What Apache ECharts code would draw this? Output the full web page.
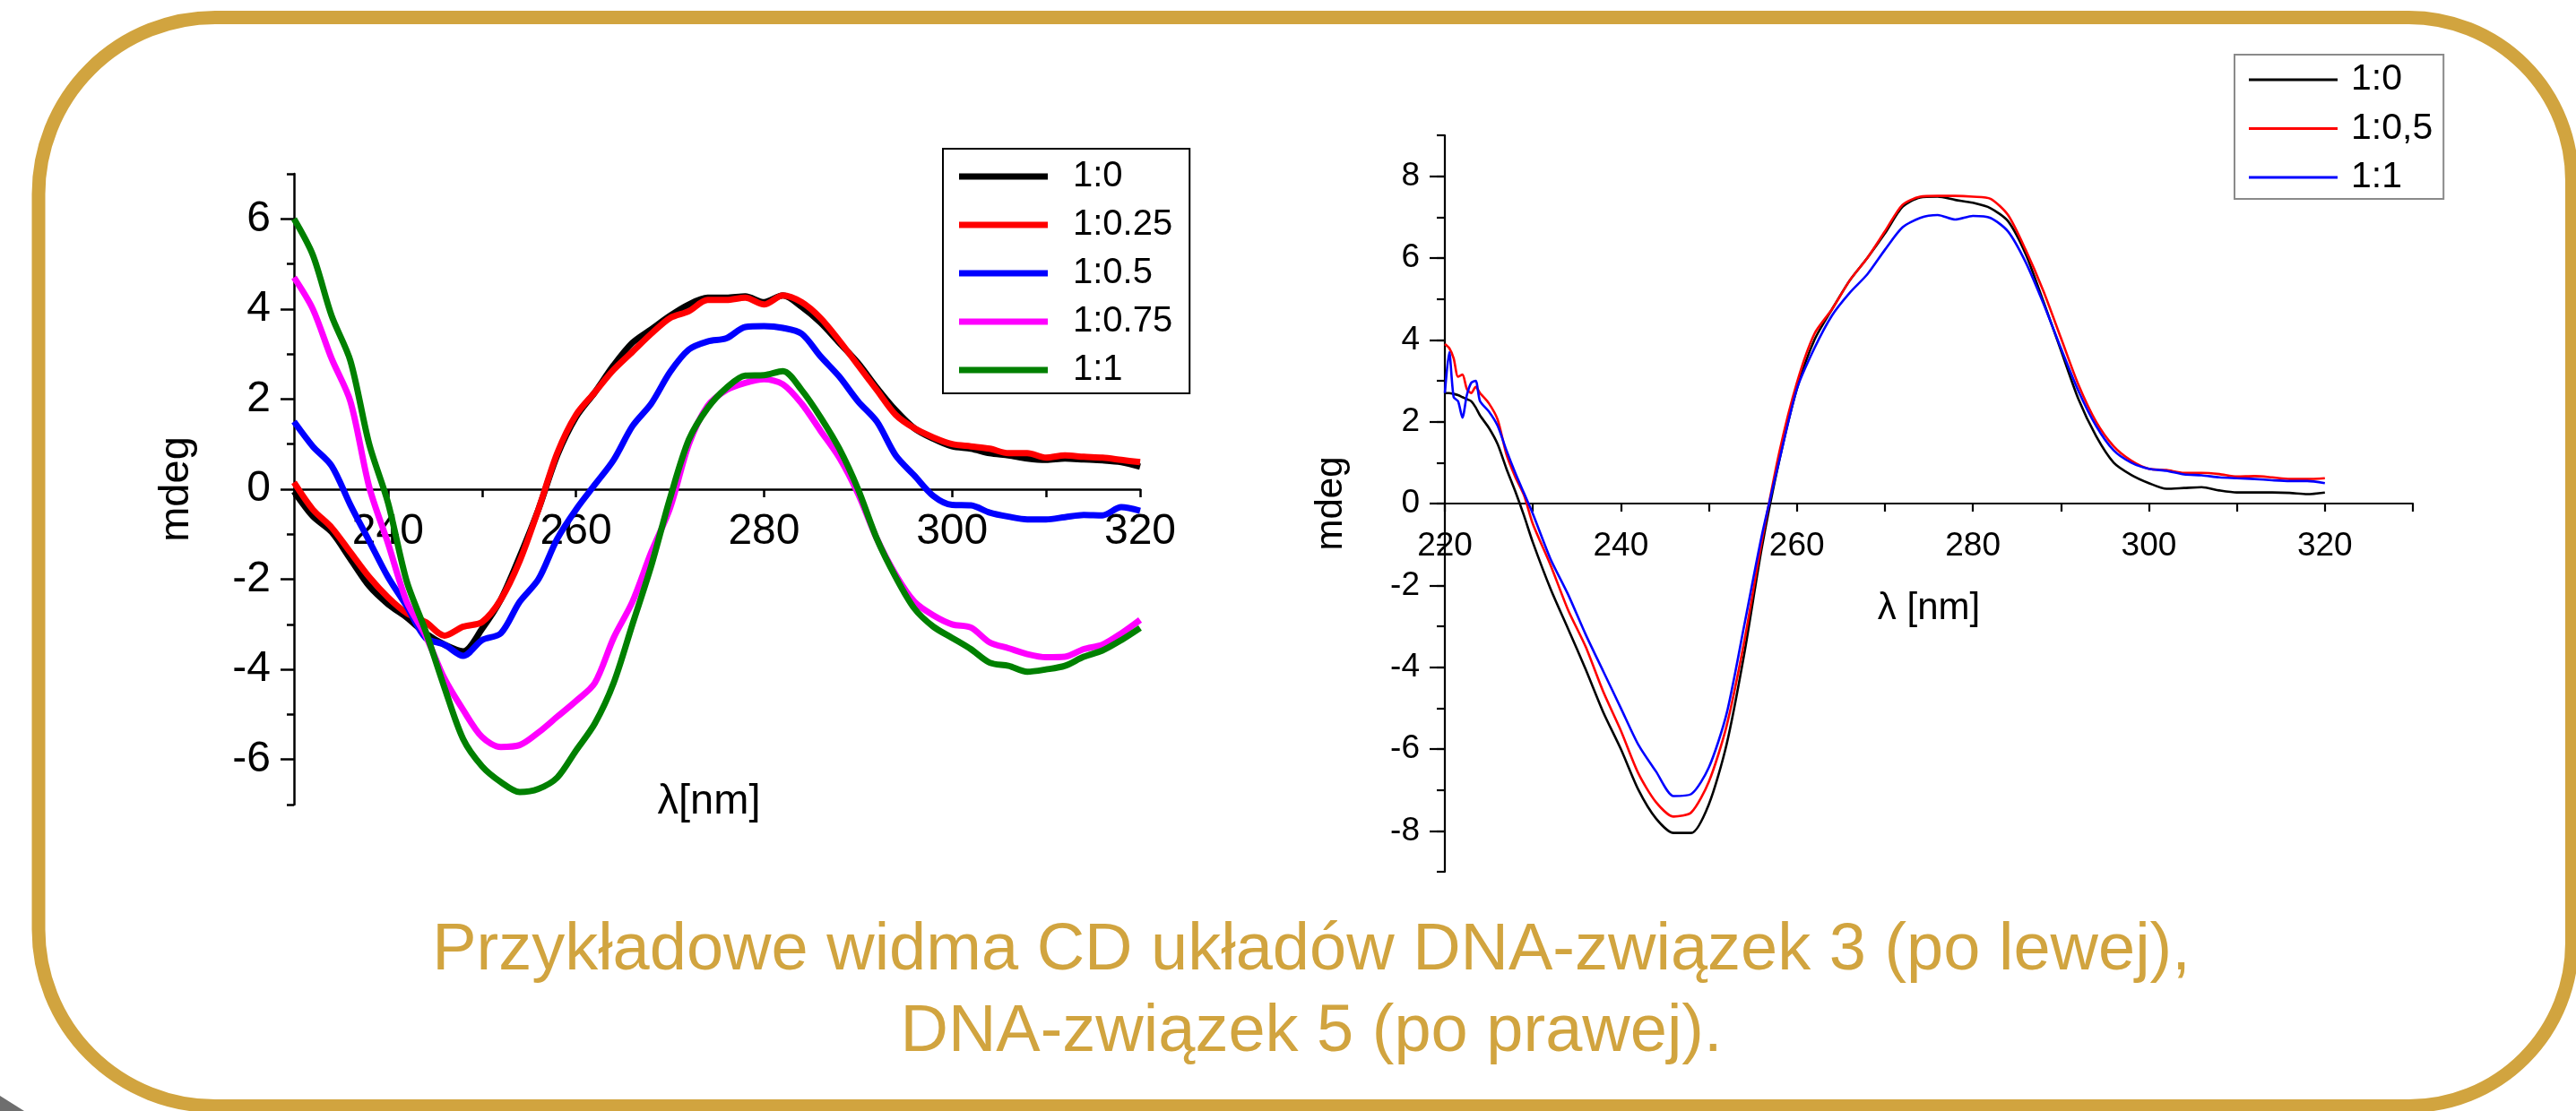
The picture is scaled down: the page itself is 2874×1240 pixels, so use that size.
<!DOCTYPE html>
<html>
<head>
<meta charset="utf-8">
<script src="https://cdn.jsdelivr.net/npm/echarts@6/dist/echarts.min.js"></script>
<style>
  html, body { margin: 0; padding: 0; background: #ffffff; }
  #main { width: 2874px; height: 1240px; }
</style>
</head>
<body>
<div id="main"></div>
<script>
// CD spectra of DNA with compound 3 (left panel) and compound 5 (right panel)

// ---- left panel: DNA + compound 3 ----
const LAMBDA_3 = [230,232,234,236,238,240,242,244,246,248,250,252,254,256,258,260,262,264,266,268,270,
  272,274,276,278,280,282,284,286,288,290,292,294,296,298,300,302,304,306,308,310,312,314,316,318,320];
const Z3_1_0 = [-0.05,-0.6,-0.95,-1.55,-2.15,-2.55,-2.85,-3.2,-3.45,-3.6,-3.1,-2.45,-1.5,-0.45,0.75,1.6,2.15,2.75,
  3.25,3.55,3.85,4.1,4.25,4.25,4.28,4.15,4.3,4.05,3.7,3.25,2.8,2.25,1.75,1.35,1.12,0.95,0.9,0.8,0.75,0.68,0.65,0.68,
  0.66,0.64,0.6,0.5];
const Z3_1_025 = [0.15,-0.45,-0.85,-1.4,-1.95,-2.4,-2.75,-2.95,-3.25,-3.05,-2.95,-2.45,-1.6,-0.45,0.8,1.65,2.15,2.65,
  3.05,3.45,3.8,3.95,4.2,4.2,4.25,4.1,4.3,4.15,3.8,3.3,2.75,2.2,1.65,1.35,1.15,1.0,0.95,0.9,0.8,0.8,0.7,0.75,0.72,
  0.7,0.65,0.6];
const Z3_1_05 = [1.5,0.95,0.52,-0.35,-1.15,-1.95,-2.6,-3.3,-3.45,-3.7,-3.35,-3.2,-2.5,-2.0,-1.1,-0.45,0.1,0.65,1.4,
  1.9,2.6,3.1,3.28,3.35,3.6,3.62,3.58,3.45,2.95,2.5,1.95,1.5,0.75,0.3,-0.15,-0.35,-0.36,-0.52,-0.61,-0.67,-0.67,
  -0.62,-0.57,-0.58,-0.4,-0.48];
const Z3_1_075 = [4.7,4.0,2.9,1.95,0.05,-1.2,-2.5,-3.25,-4.2,-4.9,-5.5,-5.72,-5.68,-5.4,-5.05,-4.7,-4.3,-3.3,-2.5,
  -1.4,-0.42,1.0,1.85,2.2,2.36,2.44,2.33,1.9,1.3,0.7,-0.1,-1.1,-1.9,-2.5,-2.8,-3.0,-3.07,-3.4,-3.53,-3.66,-3.73,
  -3.72,-3.55,-3.45,-3.2,-2.9];
const Z3_1_1 = [6.0,5.2,3.85,2.85,1.0,-0.3,-2.05,-3.15,-4.4,-5.55,-6.15,-6.5,-6.72,-6.65,-6.4,-5.8,-5.2,-4.3,-3.0,
  -1.7,-0.2,1.1,1.8,2.25,2.52,2.53,2.62,2.2,1.6,0.9,0.0,-1.1,-1.95,-2.65,-3.05,-3.3,-3.55,-3.85,-3.92,-4.05,-4.0,
  -3.92,-3.72,-3.58,-3.35,-3.08];
const NAMES_3 = ['1:0', '1:0.25', '1:0.5', '1:0.75', '1:1'];
const COLORS_3 = ['#000000', '#ff0000', '#0000ff', '#ff00ff', '#008000'];

// ---- right panel: DNA + compound 5 ----
const LAMBDA_5 = [220,220.5,221,221.5,222,222.5,223,223.5,224,225,226,227,228,229,230,232,234,236,238,240,242,
  244,246,248,250,252,254,256,258,260,262,264,266,268,270,272,274,276,278,280,282,284,286,288,290,292,294,296,
  298,300,302,304,306,308,310,312,314,316,318,320];
const Z5_1_0 = [2.7,2.7,2.68,2.65,2.6,2.55,2.5,2.35,2.15,1.85,1.45,0.85,0.3,-0.3,-0.95,-2.08,-3.06,-4.05,-5.1,-6.0,
  -7.0,-7.7,-8.05,-8.05,-7.35,-5.9,-3.7,-1.1,1.05,2.8,4.0,4.75,5.45,6.0,6.6,7.25,7.48,7.5,7.42,7.35,7.22,6.9,6.1,
  4.95,3.75,2.55,1.65,1.0,0.7,0.5,0.36,0.38,0.4,0.32,0.27,0.27,0.27,0.26,0.23,0.27];
const Z5_1_05 = [3.9,3.8,3.55,3.1,3.15,2.8,2.7,2.85,2.7,2.45,2.05,1.2,0.65,0.2,-0.5,-1.5,-2.6,-3.5,-4.6,-5.55,-6.6,
  -7.3,-7.65,-7.55,-6.8,-5.45,-3.4,-0.95,1.25,2.95,4.15,4.75,5.45,6.0,6.65,7.3,7.5,7.52,7.52,7.5,7.45,7.05,6.2,
  5.2,4.05,2.9,2.0,1.4,1.05,0.85,0.82,0.75,0.75,0.72,0.66,0.67,0.64,0.6,0.6,0.62];
const Z5_1_1 = [2.7,3.7,2.6,2.5,2.1,2.65,2.95,3.0,2.5,2.25,1.9,1.3,0.75,0.25,-0.25,-1.35,-2.22,-3.2,-4.1,-5.0,-5.9,
  -6.55,-7.15,-7.1,-6.45,-5.15,-3.0,-0.8,1.05,2.8,3.8,4.6,5.15,5.6,6.2,6.75,6.98,7.05,6.94,7.03,6.98,6.65,5.9,
  4.9,3.8,2.75,1.9,1.3,1.0,0.85,0.8,0.71,0.69,0.64,0.62,0.6,0.57,0.55,0.55,0.5];
const NAMES_5 = ['1:0', '1:0,5', '1:1'];
const COLORS_5 = ['#000000', '#ff0000', '#0000ff'];

// tick label sets
const Y_LABELS_3 = [-6, -4, -2, 0, 2, 4, 6];
const X_LABELS_3 = [240, 260, 280, 300, 320];
const Y_LABELS_5 = [-8, -6, -4, -2, 0, 2, 4, 6, 8];
const X_LABELS_5 = [220, 240, 260, 280, 300, 320];

const FONT = '"Liberation Sans", Arial, Helvetica, sans-serif';
const GOLD = '#D1A43F';

// plot areas (pixels) and the value range of each vertical axis
const GRID_3 = { left: 328, top: 194, width: 944, height: 704 };
const GRID_5 = { left: 1612, top: 151, width: 1080, height: 822 };
const Y_RANGE_3 = [-7, 7];
const Y_RANGE_5 = [-9, 9];

// the horizontal axis sits on the y = 0 line: shift it up from the grid bottom
const zeroOffset = (grid, range) => -grid.height * (0 - range[0]) / (range[1] - range[0]);

const pairs = (xs, ys) => xs.map((x, i) => [x, ys[i]]);

const panel3 = [Z3_1_0, Z3_1_025, Z3_1_05, Z3_1_075, Z3_1_1];
const panel5 = [Z5_1_0, Z5_1_05, Z5_1_1];

const series = [];
panel3.forEach((vals, i) => {
  series.push({
    name: 'zw3|' + NAMES_3[i], type: 'line', xAxisIndex: 0, yAxisIndex: 0,
    data: pairs(LAMBDA_3, vals), symbol: 'none', showSymbol: false, smooth: 0.3,
    color: COLORS_3[i], lineStyle: { width: 7, color: COLORS_3[i] }, itemStyle: { color: COLORS_3[i] },
    z: 3 + i
  });
});
panel5.forEach((vals, i) => {
  series.push({
    name: 'zw5|' + NAMES_5[i], type: 'line', xAxisIndex: 1, yAxisIndex: 2,
    data: pairs(LAMBDA_5, vals), symbol: 'none', showSymbol: false, smooth: 0.25,
    color: COLORS_5[i], lineStyle: { width: 2.6, color: COLORS_5[i] }, itemStyle: { color: COLORS_5[i] },
    z: 3 + i
  });
});

const option = {
  animation: false,
  backgroundColor: '#ffffff',
  textStyle: { fontFamily: FONT },
  grid: [GRID_3, GRID_5],
  xAxis: [
    {
      gridIndex: 0, type: 'value', position: 'bottom', min: 230, max: 320, interval: 10,
      offset: zeroOffset(GRID_3, Y_RANGE_3),
      axisLine: { show: true, onZero: false, lineStyle: { color: '#000', width: 2.5 } },
      axisTick: { show: true, length: 9, lineStyle: { color: '#000', width: 2.5 } },
      axisLabel: {
        show: true, margin: 24, color: '#000', fontSize: 48, fontFamily: FONT,
        formatter: (v) => X_LABELS_3.includes(v) ? String(v) : ''
      },
      splitLine: { show: false },
      name: 'λ[nm]', nameLocation: 'middle', nameGap: 326,
      nameTextStyle: { fontSize: 47, color: '#000', fontFamily: FONT, padding: [0, 18, 0, 0] }
    },
    {
      gridIndex: 1, type: 'value', position: 'bottom', min: 220, max: 330, interval: 10,
      offset: zeroOffset(GRID_5, Y_RANGE_5),
      axisLine: { show: true, onZero: false, lineStyle: { color: '#000', width: 2.2 } },
      axisTick: { show: true, length: 9, lineStyle: { color: '#000', width: 2.2 } },
      axisLabel: {
        show: true, margin: 29, color: '#000', fontSize: 37, fontFamily: FONT,
        formatter: (v) => X_LABELS_5.includes(v) ? String(v) : ''
      },
      splitLine: { show: false },
      name: 'λ [nm]', nameLocation: 'middle', nameGap: 96,
      nameTextStyle: { fontSize: 42, color: '#000', fontFamily: FONT }
    }
  ],
  yAxis: [
    // left panel: line, minor ticks, labels
    {
      gridIndex: 0, type: 'value', position: 'left', min: Y_RANGE_3[0], max: Y_RANGE_3[1], interval: 1,
      axisLine: { show: true, onZero: false, lineStyle: { color: '#000', width: 2.5 } },
      axisTick: { show: true, length: 8, lineStyle: { color: '#000', width: 2.5 } },
      axisLabel: {
        show: true, margin: 26, color: '#000', fontSize: 48, fontFamily: FONT,
        customValues: Y_LABELS_3
      },
      splitLine: { show: false },
      name: 'mdeg', nameLocation: 'middle', nameGap: 107,
      nameTextStyle: { fontSize: 47, color: '#000', fontFamily: FONT }
    },
    // left panel: major ticks
    {
      gridIndex: 0, type: 'value', position: 'left', min: Y_RANGE_3[0], max: Y_RANGE_3[1], interval: 1,
      axisLine: { show: false, onZero: false },
      axisTick: { show: true, length: 15, customValues: Y_LABELS_3, lineStyle: { color: '#000', width: 2.5 } },
      axisLabel: { show: false },
      splitLine: { show: false }
    },
    // right panel: line, minor ticks, labels
    {
      gridIndex: 1, type: 'value', position: 'left', min: Y_RANGE_5[0], max: Y_RANGE_5[1], interval: 1,
      axisLine: { show: true, onZero: false, lineStyle: { color: '#000', width: 2.2 } },
      axisTick: { show: true, length: 9, lineStyle: { color: '#000', width: 2.2 } },
      axisLabel: {
        show: true, margin: 28, color: '#000', fontSize: 37, fontFamily: FONT,
        customValues: Y_LABELS_5
      },
      splitLine: { show: false },
      name: 'mdeg', nameLocation: 'middle', nameGap: 106,
      nameTextStyle: { fontSize: 42, color: '#000', fontFamily: FONT }
    },
    // right panel: major ticks
    {
      gridIndex: 1, type: 'value', position: 'left', min: Y_RANGE_5[0], max: Y_RANGE_5[1], interval: 1,
      axisLine: { show: false, onZero: false },
      axisTick: { show: true, length: 17, customValues: Y_LABELS_5, lineStyle: { color: '#000', width: 2.2 } },
      axisLabel: { show: false },
      splitLine: { show: false }
    }
  ],
  legend: [
    {
      orient: 'vertical', left: 1052, top: 166,
      data: NAMES_3.map(n => 'zw3|' + n),
      formatter: (name) => name.split('|')[1],
      icon: 'rect', itemWidth: 99, itemHeight: 7, itemGap: 14,
      padding: [11, 19, 6, 18],
      borderColor: '#000', borderWidth: 2, backgroundColor: '#fff',
      selectedMode: false,
      textStyle: { fontSize: 40, lineHeight: 40, color: '#000', fontFamily: FONT, padding: [0, 0, 0, 23] }
    },
    {
      orient: 'vertical', left: 2493, top: 61,
      data: NAMES_5.map(n => 'zw5|' + n),
      formatter: (name) => name.split('|')[1],
      icon: 'rect', itemWidth: 99, itemHeight: 3, itemGap: 13.5,
      padding: [7.5, 12, 3.5, 16],
      borderColor: '#8a8a8a', borderWidth: 2, backgroundColor: '#fff',
      selectedMode: false,
      textStyle: { fontSize: 41, lineHeight: 41, color: '#000', fontFamily: FONT, padding: [0, 0, 0, 10] }
    }
  ],
  graphic: [
    {
      type: 'rect', silent: true, z: 100,
      shape: { x: 43, y: 19.5, width: 2826.5, height: 1215, r: [197, 182, 182, 197] },
      style: { fill: 'none', stroke: GOLD, lineWidth: 15 }
    },
    {
      type: 'polygon', silent: true, z: 100,
      shape: { points: [[0, 1223], [27, 1240], [0, 1240]] },
      style: { fill: '#6e6e6e' }
    },
    {
      type: 'text', silent: true, z: 100, x: 1463, y: 1062,
      style: {
        text: 'Przykładowe widma CD układów DNA-związek 3 (po lewej),',
        font: '74px ' + FONT, fill: GOLD,
        align: 'center', verticalAlign: 'middle', textAlign: 'center', textVerticalAlign: 'middle'
      }
    },
    {
      type: 'text', silent: true, z: 100, x: 1463, y: 1153,
      style: {
        text: 'DNA-związek 5 (po prawej).',
        font: '74px ' + FONT, fill: GOLD,
        align: 'center', verticalAlign: 'middle', textAlign: 'center', textVerticalAlign: 'middle'
      }
    }
  ],
  series: series
};

const chart = echarts.init(document.getElementById('main'), null, { renderer: 'canvas' });
chart.setOption(option);
</script>
</body>
</html>
